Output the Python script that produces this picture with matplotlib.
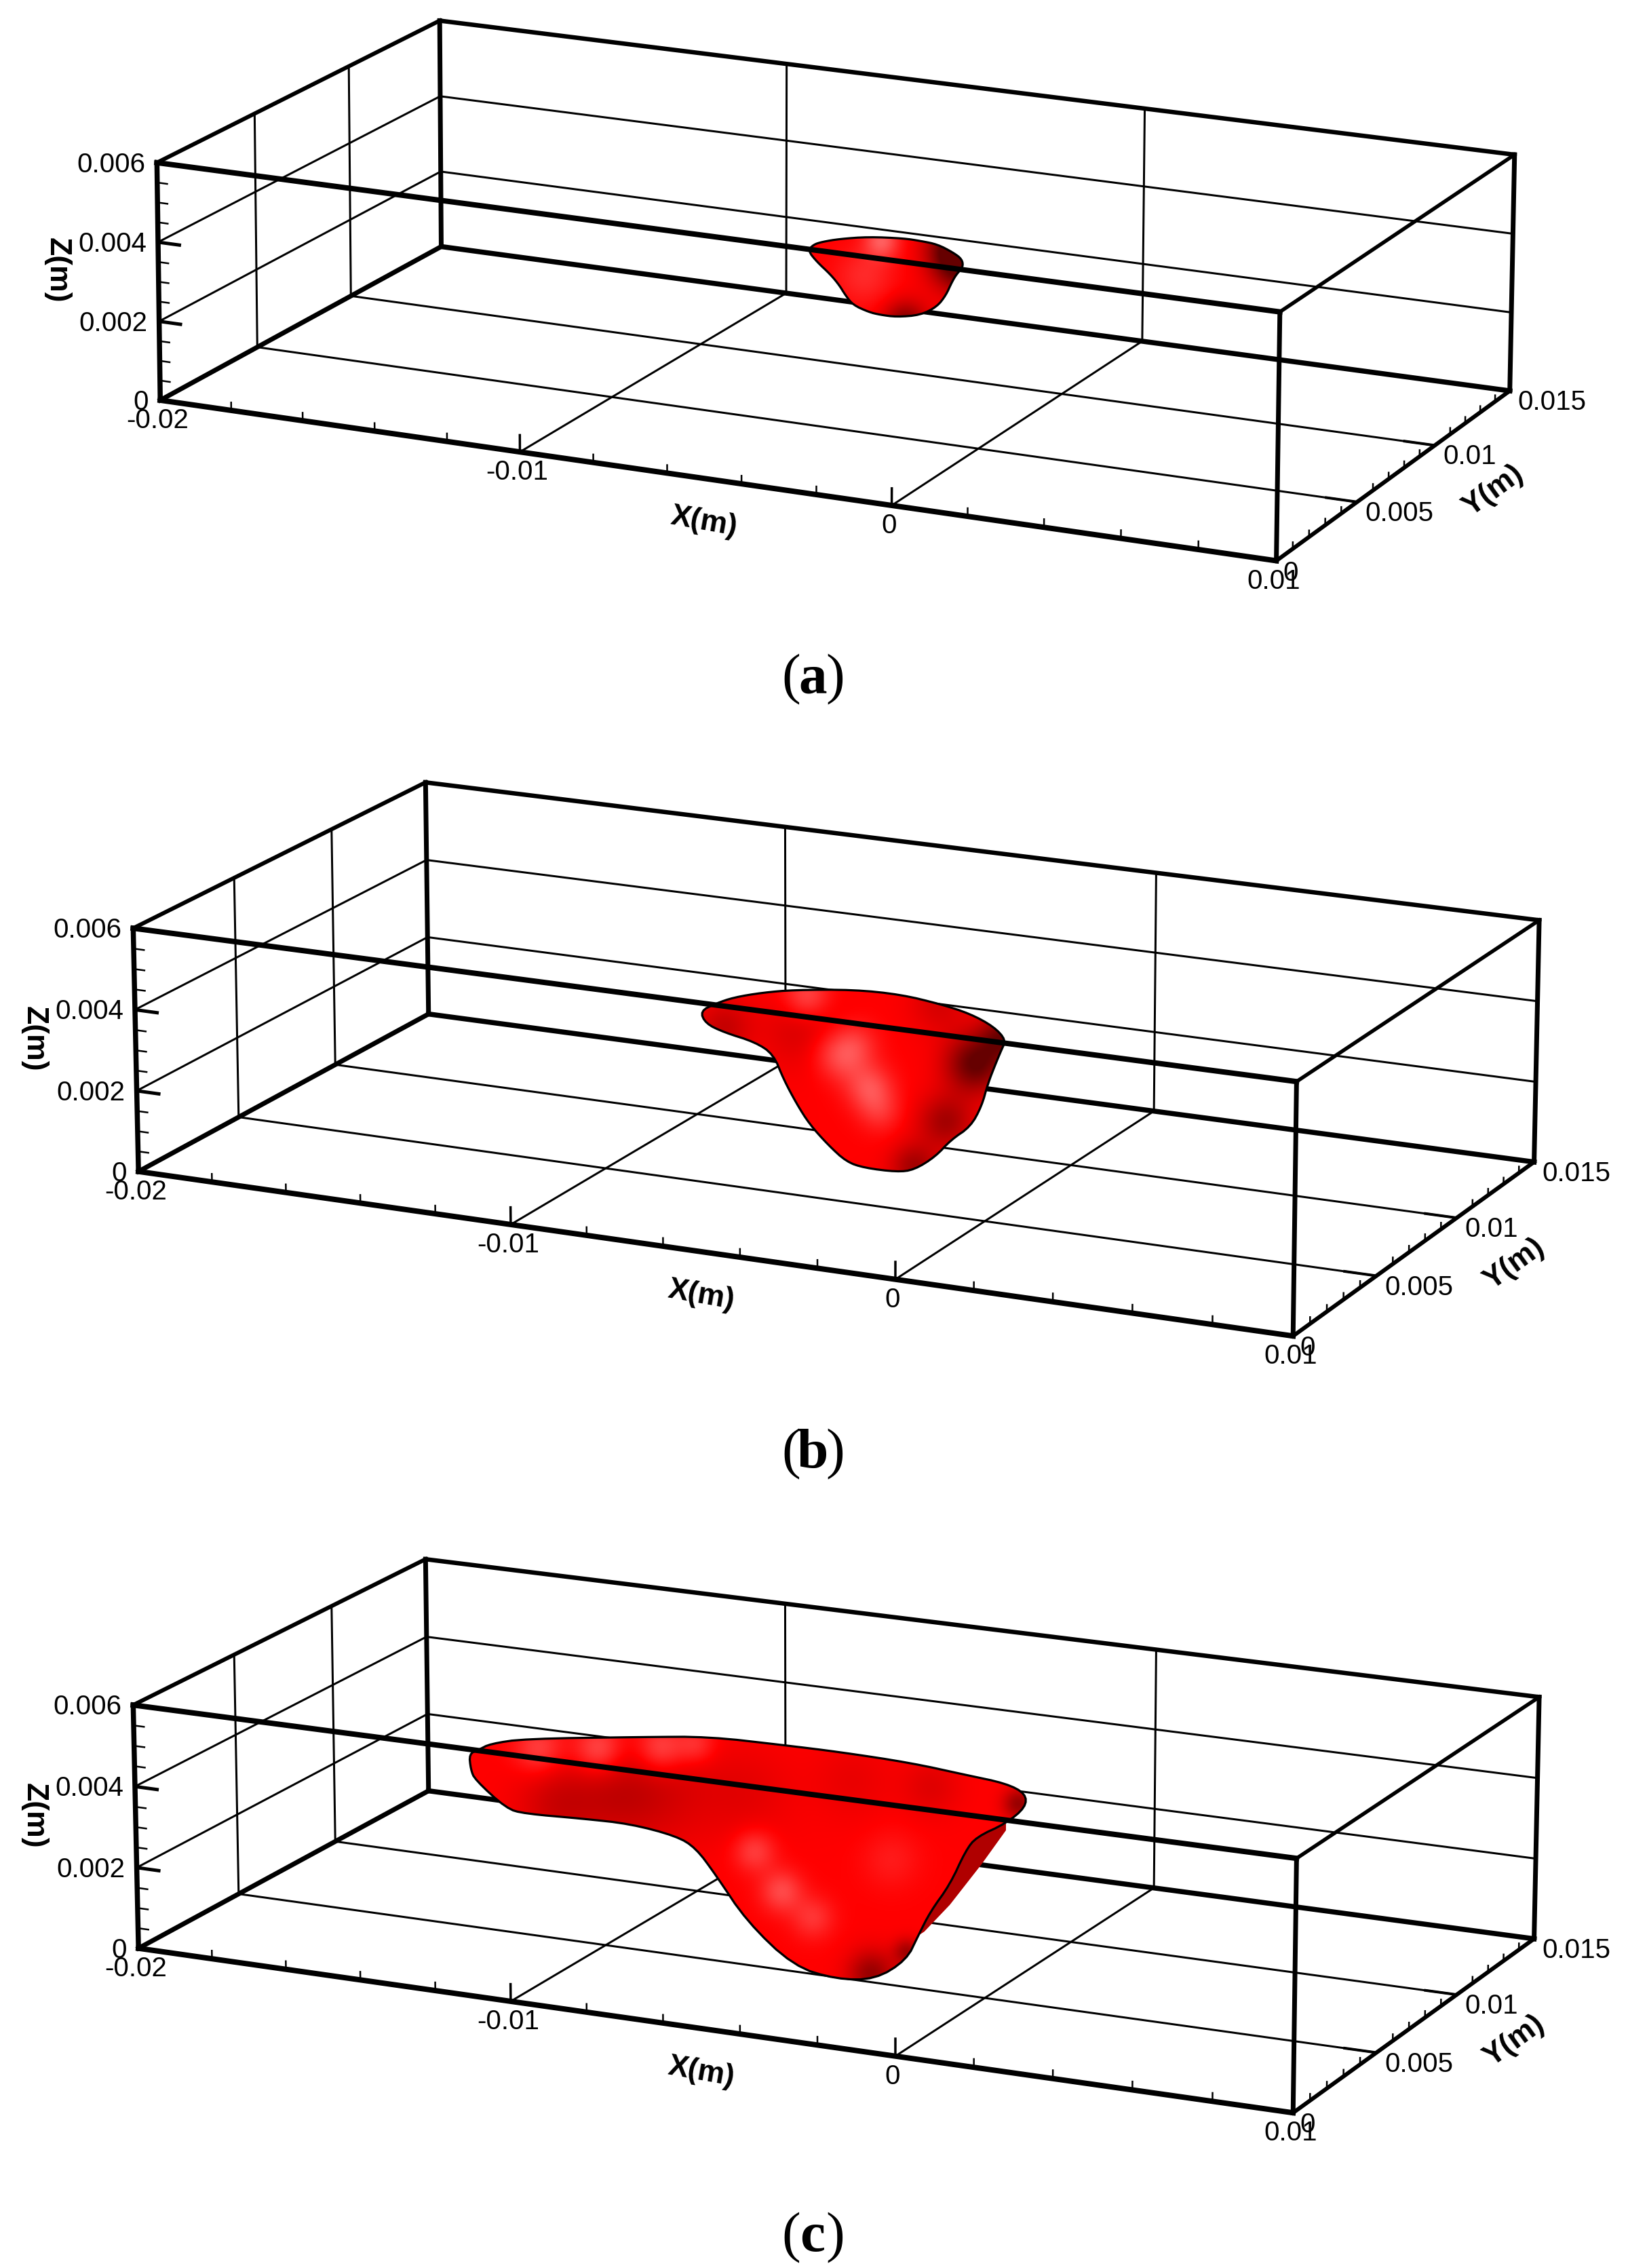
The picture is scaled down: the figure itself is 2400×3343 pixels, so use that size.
import numpy as np
import matplotlib
matplotlib.use("Agg")
import matplotlib.pyplot as plt
from matplotlib.patches import Polygon

# ---------- axis values (mm for geometry, labels as printed) ----------
X_RANGE = [-20, 10]
Y_RANGE = [0, 15]
Z_RANGE = [0, 6]
X_MAJOR = [-20, -10, 0, 10]
Y_MAJOR = [0, 5, 10, 15]
Z_MAJOR = [0, 2, 4, 6]
X_LABELS = ["-0.02", "-0.01", "0", "0.01"]
Y_LABELS = ["0", "0.005", "0.01", "0.015"]
Z_LABELS = ["0", "0.002", "0.004", "0.006"]
X_MINOR = [-18, -16, -14, -12, -8, -6, -4, -2, 2, 4, 6, 8]
Y_MINOR = [1, 2, 3, 4, 6, 7, 8, 9, 11, 12, 13, 14]
Z_MINOR = [0.5, 1, 1.5, 2.5, 3, 3.5, 4.5, 5, 5.5]
CAPTIONS = ["a", "b", "c"]

# ---------- melt-pool silhouettes: X, Z (mm) seen on the plane Y = 7.5 mm ----------
POOL_A_X = [-5.81, -5.66, -5.42, -4.95, -4.16, -3.19, -2.73, -2.28, -1.86, -1.61, -1.58, -1.76,
            -1.89, -2.04, -2.28, -2.73, -3.38, -3.84, -4.14, -4.58, -4.79, -4.95, -5.19, -5.57]
POOL_A_Z = [3.58, 3.75, 3.85, 3.98, 4.13, 4.21, 4.20, 4.17, 4.02, 3.88, 3.68, 3.48,
            3.25, 2.92, 2.60, 2.33, 2.20, 2.20, 2.23, 2.36, 2.59, 2.81, 3.05, 3.33]
POOL_B_X = [-8.68, -8.26, -7.78, -7.02, -6.18, -4.59, -3.35, -2.31, -1.54, -0.92, -0.60, -0.72,
            -0.89, -1.07, -1.23, -1.52, -2.03, -2.44, -3.00, -3.45, -4.32, -4.79, -5.28, -5.77,
            -6.11, -6.46, -6.73, -7.22, -8.05, -8.54]
POOL_B_Z = [3.41, 3.65, 3.86, 4.07, 4.24, 4.44, 4.47, 4.36, 4.22, 3.98, 3.69, 3.43,
            3.02, 2.55, 1.98, 1.44, 1.05, 0.58, 0.18, 0.07, 0.06, 0.15, 0.51, 0.96,
            1.42, 1.99, 2.58, 2.82, 2.96, 3.12]
POOL_C_X = [-14.93, -14.67, -14.35, -13.41, -10.20, -8.44, -6.47, -4.95, -3.09, -1.65, -0.60, -0.09,
            -0.09, -0.60, -1.37, -1.65, -2.06, -2.57, -2.89, -3.20, -4.03, -5.06, -6.20, -7.45,
            -8.28, -8.81, -9.33, -10.57, -11.85, -13.44, -13.93, -14.78, -14.89]
POOL_C_Z = [3.50, 3.63, 3.82, 4.06, 4.49, 4.71, 4.74, 4.75, 4.71, 4.59, 4.51, 4.32,
            3.99, 3.53, 3.10, 2.73, 1.84, 1.11, 0.47, -0.18, -0.77, -0.90, -0.72, 0.24,
            1.30, 1.90, 2.13, 2.28, 2.25, 2.18, 2.25, 2.87, 3.11]
# darker back part that shows beside the pool in panel c
SLIVER_C_X = [-0.60, -1.23, -2.06, -2.73, -2.89, -2.57, -2.06, -1.65, -1.37, -0.60]
SLIVER_C_Z = [3.36, 2.45, 1.34, 0.59, 0.47, 1.11, 1.84, 2.73, 3.10, 3.53]

# surface lighting: position X, Z (mm), lit (+) or shaded (-) amount, spread
SHADE_A_X = [-3.8, -4.27, -1.67, -3.15, -1.95]
SHADE_A_Z = [4.07, 3.12, 3.70, 2.06, 4.18]
SHADE_A_V = [0.35, 0.16, -0.6, -0.5, -0.45]
SHADE_A_S = [18, 30, 28, 22, 25]
SHADE_B_X = [-4.18, -4.59, -5.84, -1.41, -0.65, -3.0, -8.05, -5.97, -2.17, -2.35,
             -4.9, -3.9, -5.28]
SHADE_B_Z = [2.06, 3.06, 4.12, 3.0, 3.77, 0.26, 3.08, 3.27, 1.48, 4.34,
             2.6, 1.5, 2.86]
SHADE_B_V = [0.3, 0.22, 0.3, -0.6, -0.5, -0.35, -0.22, -0.15, -0.35, -0.15,
             0.16, 0.16, 0.12]
SHADE_B_S = [24, 24, 24, 30, 24, 24, 28, 40, 28, 30, 24, 22, 24]
SHADE_C_X = [-7.25, -6.53, -5.70, -3.62, -13.04, -11.43, -9.75, -8.81,
             -9.84, -12.5, -4.14, -0.29, -3.20, -4.65, -2.57, -11.0, -7.5]
SHADE_C_Z = [2.03, 1.12, 0.56, 2.27, 3.86, 4.05, 4.28, 4.48,
             3.15, 2.55, -0.63, 4.06, 0.03, 4.08, 4.18, 2.9, 3.4]
SHADE_C_V = [0.25, 0.28, 0.2, 0.1, 0.25, 0.3, 0.3, 0.2,
             -0.16, -0.2, -0.4, -0.4, -0.35, -0.08, -0.12, -0.14, -0.1]
SHADE_C_S = [22, 22, 22, 30, 25, 25, 25, 20, 55, 42, 24, 16, 14, 40, 30, 42, 50]

# ---------- view calibration of each panel ----------
CAL_WORLD = [(-20, 0, 0), (-20, 0, 6), (-20, 15, 6), (-20, 15, 0),
             (10, 0, 0), (10, 0, 6), (10, 15, 6), (10, 15, 0),
             (-10, 0, 0), (0, 0, 0), (-10, 15, 0), (0, 15, 0)]
CAL_A = [(237, 590), (231, 241), (649, 29), (650, 364),
         (1883, 827), (1886, 460), (2233, 228), (2225, 576),
         (765, 666), (1315, 743), (1159, 432), (1684, 504)]
CAL_B = [(203, 1730), (195, 1368), (629, 1155), (631, 1494),
         (1907, 1972), (1910, 1594), (2270, 1355), (2261, 1717),
         (757, 1805), (1319, 1880), (1157, 1562), (1701, 1637)]
CAL_C = [(u, v + 1145) for u, v in CAL_B]
CAPTION_Y = [1021, 2163, 3318]
PLANE_Y = 7.5


def fit_camera(world, image):
    rows, rhs = [], []
    for (x, y, z), (u, v) in zip(world, image):
        rows.append([x, y, z, 1, 0, 0, 0, 0, -u * x, -u * y, -u * z]); rhs.append(u)
        rows.append([0, 0, 0, 0, x, y, z, 1, -v * x, -v * y, -v * z]); rhs.append(v)
    p = np.linalg.lstsq(np.array(rows, float), np.array(rhs, float), rcond=None)[0]
    return np.append(p, 1.0).reshape(3, 4)


def project(cam, x, y, z):
    x, y, z = np.broadcast_arrays(np.asarray(x, float), np.asarray(y, float), np.asarray(z, float))
    h = cam @ np.vstack([x.ravel(), y.ravel(), z.ravel(), np.ones(x.size)])
    return h[0] / h[2], h[1] / h[2]


def round_corners(pts, passes=2):
    # corner cutting, so the silhouette is drawn as a soft curve
    for _ in range(passes):
        nxt = np.roll(pts, -1, axis=0)
        pts = np.column_stack([0.75 * pts + 0.25 * nxt, 0.25 * pts + 0.75 * nxt]).reshape(-1, 2)
    return pts


PX = 0.72
FONT = "Liberation Sans"
plt.rcParams["font.family"] = [FONT, "DejaVu Sans"]
fig = plt.figure(figsize=(24, 33.43), dpi=100, facecolor="white")
ax = fig.add_axes([0, 0, 1, 1])


def seg(cam, a, b, width, zorder=2):
    u, v = project(cam, [a[0], b[0]], [a[1], b[1]], [a[2], b[2]])
    ax.plot(u, v, color="black", lw=width * PX, solid_capstyle="projecting", zorder=zorder)


def draw_pool(cam, px_, pz_, sx, sz, sv, ss):
    u, v = project(cam, px_, PLANE_Y, pz_)
    poly = round_corners(np.column_stack([u, v]))
    x0, x1, y0, y1 = u.min() - 4, u.max() + 4, v.min() - 4, v.max() + 4
    gx, gy = np.meshgrid(np.arange(x0, x1), np.arange(y0, y1))
    su, sw = project(cam, sx, PLANE_Y, sz)
    f = np.zeros_like(gx)
    for a, b, val, sig in zip(su, sw, sv, ss):
        f += val * np.exp(-((gx - a) ** 2 + (gy - b) ** 2) / (2 * sig ** 2))
    r = np.clip(1 + np.minimum(f, 0), 0.4, 1)
    w = np.clip(f, 0, 0.4)
    rgb = np.dstack([r, w, w])
    im = ax.imshow(rgb, extent=(x0, x1, y1, y0), zorder=3, aspect="auto", interpolation="bilinear")
    patch = Polygon(poly, closed=True, transform=ax.transData, fc="none", ec="none")
    ax.add_patch(patch)
    im.set_clip_path(patch)
    ax.add_patch(Polygon(poly, closed=True, fc="none", ec="black", lw=3.2 * PX, zorder=4, joinstyle="round"))


def draw_panel(cal, pool, shade, sliver, caption, cap_y):
    cam = fit_camera(CAL_WORLD, cal)
    xa, xb = X_RANGE
    ya, yb = Y_RANGE
    za, zb = Z_RANGE
    thin = 3.0
    # grid on the left wall, floor and back wall
    for y in Y_MAJOR[1:-1]:
        seg(cam, (xa, y, za), (xa, y, zb), thin)
        seg(cam, (xa, y, za), (xb, y, za), thin)
    for x in X_MAJOR[1:-1]:
        seg(cam, (x, ya, za), (x, yb, za), thin)
        seg(cam, (x, yb, za), (x, yb, zb), thin)
    for z in Z_MAJOR[1:-1]:
        seg(cam, (xa, ya, z), (xa, yb, z), thin)
        seg(cam, (xa, yb, z), (xb, yb, z), thin)
    # box edges behind the pool
    seg(cam, (xa, yb, za), (xb, yb, za), 7.5)
    seg(cam, (xa, yb, zb), (xb, yb, zb), 6.5)
    seg(cam, (xa, yb, za), (xa, yb, zb), 7)
    seg(cam, (xa, ya, za), (xa, yb, za), 7)
    seg(cam, (xa, ya, zb), (xa, yb, zb), 6)
    seg(cam, (xa, ya, za), (xa, ya, zb), 7.5)
    # pool
    if sliver is not None:
        u, v = project(cam, sliver[0], PLANE_Y, sliver[1])
        ax.add_patch(Polygon(np.column_stack([u, v]), closed=True, fc="#b00000", ec="none", zorder=2.5))
    draw_pool(cam, pool[0], pool[1], *shade)
    # edges in front of the pool
    seg(cam, (xa, ya, za), (xb, ya, za), 8, 5)
    seg(cam, (xa, ya, zb), (xb, ya, zb), 8, 5)
    seg(cam, (xb, ya, za), (xb, ya, zb), 7, 5)
    seg(cam, (xb, ya, za), (xb, yb, za), 6, 5)
    seg(cam, (xb, ya, zb), (xb, yb, zb), 5.5, 5)
    seg(cam, (xb, yb, za), (xb, yb, zb), 7, 5)
    # ticks
    for x in X_MAJOR:
        seg(cam, (x, ya, za), (x, ya, 0.42), 3.5, 5)
    for x in X_MINOR:
        seg(cam, (x, ya, za), (x, ya, 0.2), 2.5, 5)
    for z in Z_MAJOR:
        seg(cam, (xa, ya, z), (xa + 0.6, ya, z), 5, 5)
    for z in Z_MINOR:
        seg(cam, (xa, ya, z), (xa + 0.28, ya, z), 2.5, 5)
    for y in Y_MAJOR[1:]:
        seg(cam, (xb, y, za), (xb - 0.8, y, za), 4, 5)
    for y in Y_MINOR:
        seg(cam, (xb, y, za), (xb, y, 0.16), 2.5, 5)
    # tick labels
    fs = 29
    for x, s in zip(X_MAJOR, X_LABELS):
        u, v = project(cam, x, ya, za)
        ax.text(u[0] - 4, v[0] + 30, s, ha="center", va="center", fontsize=fs, zorder=6)
    for y, s in zip(Y_MAJOR, Y_LABELS):
        u, v = project(cam, xb, y, za)
        if y == 0:
            ax.text(u[0] + 21, v[0] + 18, s, ha="center", va="center", fontsize=fs, zorder=6)
        else:
            ax.text(u[0] + 12, v[0] + 17, s, ha="left", va="center", fontsize=fs, zorder=6)
    for z, s in zip(Z_MAJOR, Z_LABELS):
        u, v = project(cam, xa, ya, z)
        ax.text(u[0] - 17, v[0] + 3, s, ha="right", va="center", fontsize=fs, zorder=6)
    # axis titles
    u, v = project(cam, -5, ya, za)
    ax.text(u[0], v[0] + 64, "X(m)", rotation=-10, ha="center", va="center", fontsize=32, zorder=6,
            rotation_mode="anchor", fontweight="bold")
    u, v = project(cam, xb, 7.5, za)
    ax.text(u[0] + 143, v[0] + 26, "Y(m)", rotation=36, ha="center", va="center", fontsize=32, zorder=6,
            rotation_mode="anchor", fontweight="bold")
    u, v = project(cam, xa, ya, 3)
    ax.text(u[0] - 150, v[0] - 17, "Z(m)", rotation=-90, ha="center", va="center", fontsize=32, zorder=6,
            rotation_mode="anchor", fontweight="bold")
    # caption
    ax.text(1180, cap_y, "(", ha="right", va="baseline", fontsize=60, family="Liberation Serif")
    ax.text(1198, cap_y, caption, ha="center", va="baseline", fontsize=60, family="Liberation Serif",
            fontweight="bold")
    ax.text(1217, cap_y, ")", ha="left", va="baseline", fontsize=60, family="Liberation Serif")


draw_panel(CAL_A, (POOL_A_X, POOL_A_Z), (SHADE_A_X, SHADE_A_Z, SHADE_A_V, SHADE_A_S), None, CAPTIONS[0], CAPTION_Y[0])
draw_panel(CAL_B, (POOL_B_X, POOL_B_Z), (SHADE_B_X, SHADE_B_Z, SHADE_B_V, SHADE_B_S), None, CAPTIONS[1], CAPTION_Y[1])
draw_panel(CAL_C, (POOL_C_X, POOL_C_Z), (SHADE_C_X, SHADE_C_Z, SHADE_C_V, SHADE_C_S),
           (SLIVER_C_X, SLIVER_C_Z), CAPTIONS[2], CAPTION_Y[2])

ax.set_xlim(0, 2400)
ax.set_ylim(3343, 0)
ax.axis("off")
fig.savefig("out.png", dpi=100, facecolor="white")
